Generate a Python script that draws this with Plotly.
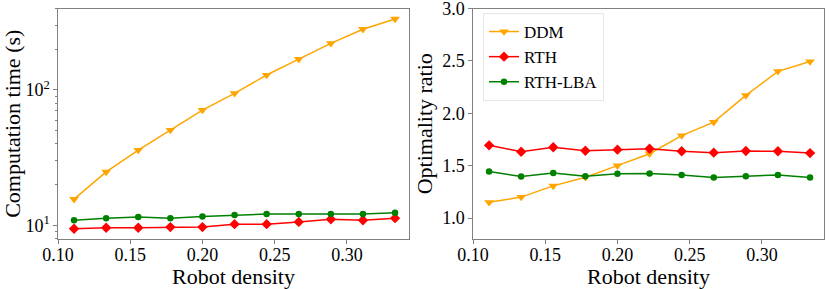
import plotly.graph_objects as go

density = [5/45, 6/45, 7/45, 8/45, 9/45, 10/45, 11/45, 12/45, 13/45, 14/45, 15/45]

time_ddm = [15.6, 24.8, 36.0, 50.6, 71.0, 94.4, 129.0, 169.0, 221.0, 281.0, 335.0]
time_rth = [9.44, 9.6, 9.6, 9.7, 9.7, 10.2, 10.2, 10.6, 11.1, 10.9, 11.3]
time_lba = [10.9, 11.3, 11.5, 11.3, 11.6, 11.9, 12.1, 12.1, 12.1, 12.1, 12.4]

opt_ddm = [1.15, 1.20, 1.307, 1.39, 1.50, 1.614, 1.787, 1.915, 2.17, 2.40, 2.494]
opt_rth = [1.694, 1.633, 1.675, 1.643, 1.653, 1.662, 1.637, 1.624, 1.64, 1.637, 1.62]
opt_lba = [1.444, 1.396, 1.429, 1.40, 1.422, 1.425, 1.41, 1.387, 1.40, 1.41, 1.387]

names = ["DDM", "RTH", "RTH-LBA"]
colors = ["#FFA500", "#FF0000", "#008000"]
symbols = ["triangle-down", "diamond", "circle"]
sizes = [8.5, 8, 6.5]

x_ticks = [0.10, 0.15, 0.20, 0.25, 0.30]
x_ticktext = ["0.10", "0.15", "0.20", "0.25", "0.30"]
y1_ticks = [10, 100]
y1_ticktext = ["10<sup>1</sup>", "10<sup>2</sup>"]
y1_minor = [8, 9, 20, 30, 40, 50, 60, 70, 80, 90, 200, 300, 400]
y2_ticks = [1.0, 1.5, 2.0, 2.5, 3.0]
y2_ticktext = ["1.0", "1.5", "2.0", "2.5", "3.0"]

FONT = "Liberation Serif, Times New Roman, serif"
W, H = 830, 289

fig = go.Figure()
left_series = [time_ddm, time_rth, time_lba]
right_series = [opt_ddm, opt_rth, opt_lba]
for i in range(3):
    fig.add_trace(go.Scatter(
        x=density, y=left_series[i], mode="lines+markers", name=names[i],
        line=dict(color=colors[i], width=1.5),
        marker=dict(symbol=symbols[i], size=sizes[i], color=colors[i]),
        xaxis="x", yaxis="y", showlegend=False))
for i in range(3):
    fig.add_trace(go.Scatter(
        x=density, y=right_series[i], mode="lines+markers", name=names[i],
        line=dict(color=colors[i], width=1.5),
        marker=dict(symbol=symbols[i], size=sizes[i], color=colors[i]),
        xaxis="x2", yaxis="y2", showlegend=True))

ax_common = dict(
    showline=True, linecolor="#808080", linewidth=1.2, mirror=True,
    ticks="outside", ticklen=3.5, tickcolor="#808080", showgrid=False,
    zeroline=False, automargin=False, ticklabeloverflow="allow",
    tickfont=dict(family=FONT, size=18, color="black"),
)
TITLE_FONT = dict(family=FONT, size=22, color="black")

y_top = 1 - 8.5 / H
y_bot = 1 - 239 / H

fig.update_layout(
    width=W, height=H,
    margin=dict(l=0, r=0, t=0, b=0),
    paper_bgcolor="white", plot_bgcolor="white",
    font=dict(family=FONT, color="black"),
    xaxis=dict(**ax_common, domain=[58 / W, 409 / W], range=[0.1, 0.343],
               tickvals=x_ticks, ticktext=x_ticktext, anchor="y",
               ticklabelstandoff=-4,
               title=dict(text="Robot density", font=TITLE_FONT, standoff=0)),
    yaxis=dict(**ax_common, domain=[y_bot, y_top], type="log",
               range=[0.899, 2.602], tickvals=y1_ticks, ticktext=y1_ticktext,
               anchor="x",
               minor=dict(tickvals=y1_minor, ticks="outside", ticklen=2, tickcolor="#808080"),
               title=dict(text="Computation time (s)", font=TITLE_FONT, standoff=3)),
    xaxis2=dict(**ax_common, domain=[473 / W, 824 / W], range=[0.1, 0.343],
                tickvals=x_ticks, ticktext=x_ticktext, anchor="y2",
                ticklabelstandoff=-4,
                title=dict(text="Robot density", font=TITLE_FONT, standoff=0)),
    yaxis2=dict(**ax_common, domain=[y_bot, y_top], range=[0.8, 3.0],
                tickvals=y2_ticks, ticktext=y2_ticktext, anchor="x2",
                title=dict(text="Optimality ratio", font=TITLE_FONT, standoff=3)),
    legend=dict(x=483 / W, y=1 - 13 / H, xanchor="left", yanchor="top",
                bgcolor="rgba(255,255,255,0.8)", bordercolor="#e6e6e6", borderwidth=1,
                font=dict(family=FONT, size=17), tracegroupgap=0, itemwidth=30),
)

fig.write_html("out.html", config={"displayModeBar": False},
               post_script="document.body.style.margin='0';")
